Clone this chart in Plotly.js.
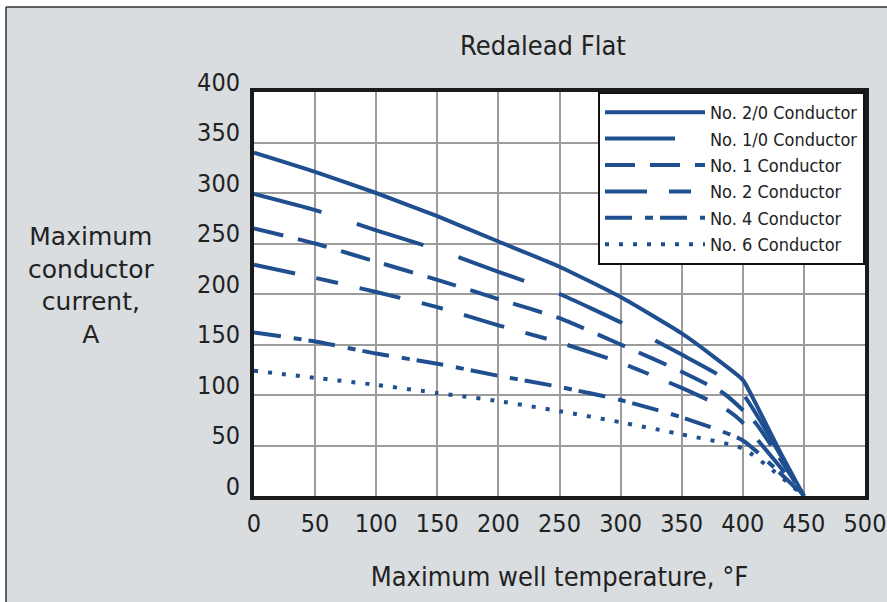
<!DOCTYPE html>
<html>
<head>
<meta charset="utf-8">
<script src="https://cdn.plot.ly/plotly-3.0.1.min.js"></script>
<style>html,body{margin:0;padding:0;background:#fff;}#chart{width:887px;height:602px;}</style>
</head>
<body>
<div id="chart"></div>
<script>
// ---- data ----
var seriesNames = ["No. 2/0 Conductor","No. 1/0 Conductor","No. 1 Conductor","No. 2 Conductor","No. 4 Conductor","No. 6 Conductor"];
var temp20 = [0,50,100,150,200,250,300,350,375,400,410,430,450];
var amp20  = [340,321,300,277,252,227,197,161,139,115,93,45,0];
var temp10 = [0,50,100,150,200,250,300,350,380,400,450];
var amp10  = [299,283,263,244,222,200,172,140,120,101,0];
var temp1  = [0,50,100,150,200,250,300,350,385,410,450];
var amp1   = [265,250,232,214,195,176,150,123,101,73,0];
var temp2  = [0,50,100,150,200,250,300,350,385,398,450];
var amp2   = [229,216,202,187,169,152,132,107,87,75,0];
var temp4  = [0,50,100,150,200,250,300,350,400,450];
var amp4   = [162,153,141,131,119,108,95,78,55,0];
var temp6  = [0,50,100,150,200,250,300,350,400,450];
var amp6   = [124,117,110,102,94,84,73,61,47,0];
var xTicks = [0,50,100,150,200,250,300,350,400,450,500];
var yTicks = [0,50,100,150,200,250,300,350,400];

var chartTitle = "Redalead Flat";
var xTitle = "Maximum well temperature, °F";
var yTitle = "Maximum<br>conductor<br>current,<br>A";

// ---- styling ----
var blue = "#1f4f8f";
var dashes = ["solid","70px,37px","30px,15px","42px,22px,22px,22px","27px,13px,8px,7px","4px,10px"];
var xs = [temp20,temp10,temp1,temp2,temp4,temp6];
var ys = [amp20,amp10,amp1,amp2,amp4,amp6];

var traces = seriesNames.map(function(n,i){
  return {x:xs[i], y:ys[i], name:n, type:"scatter", mode:"lines",
    line:{color:blue, width:4, dash:dashes[i], shape:"spline", smoothing:0.5}};
});

var W=887,H=602, L=254, R=22, T=92, B=106;
var pw=W-L-R, ph=H-T-B;
function px(x){return (x-L)/pw;}
function py(y){return (H-B-y)/ph;}

var narrow = "DejaVu Sans Condensed, Liberation Sans Narrow, sans-serif";
var wide = "DejaVu Sans, Liberation Sans, sans-serif";

var layout = {
  width:W, height:H,
  margin:{l:L, r:R, t:T, b:B, pad:0},
  paper_bgcolor:"#d9dde0",
  plot_bgcolor:"#ffffff",
  showlegend:true,
  title:{text:chartTitle, font:{family:narrow, size:27, color:"#222"},
    xref:"paper", x:px(543), xanchor:"center", yref:"container", y:1-46/H, yanchor:"middle"},
  xaxis:{range:[0,500], tickvals:xTicks, ticktext:xTicks.map(String),
    showgrid:true, gridcolor:"#9c9c9c", gridwidth:2,
    showline:true, linecolor:"#1a1a1a", linewidth:4, mirror:true,
    zeroline:false, ticks:"", ticklabelstandoff:2, ticklabeloverflow:"allow",
    tickfont:{family:narrow, size:25, color:"#222"},
    title:{text:xTitle, font:{family:narrow, size:27, color:"#222"}, standoff:31},
    fixedrange:true},
  yaxis:{range:[0,400], tickvals:yTicks, ticktext:yTicks.map(String),
    showgrid:true, gridcolor:"#9c9c9c", gridwidth:2,
    showline:true, linecolor:"#1a1a1a", linewidth:4, mirror:true,
    zeroline:false, ticks:"", ticklabelstandoff:5, ticklabelshift:-10,
    tickfont:{family:narrow, size:25, color:"#222"},
    fixedrange:true},
  legend:{x:1, xanchor:"right", y:1, yanchor:"top", xref:"paper", yref:"paper",
    bgcolor:"#ffffff", bordercolor:"#111", borderwidth:2,
    font:{family:narrow, size:18, color:"#222"}, itemwidth:100, tracegroupgap:0},
  annotations:[
    {text:yTitle, xref:"paper", yref:"paper", x:px(91), y:py(285), xanchor:"center", yanchor:"middle",
     showarrow:false, align:"center", font:{family:wide, size:25, color:"#222"}}
  ],
  shapes:[
    {type:"rect", xref:"paper", yref:"paper", x0:px(-5), x1:px(6), y0:py(-5), y1:py(610), fillcolor:"#ffffff", line:{width:0}, layer:"below"},
    {type:"rect", xref:"paper", yref:"paper", x0:px(-5), x1:px(895), y0:py(7), y1:py(-5), fillcolor:"#ffffff", line:{width:0}, layer:"below"},
    {type:"line", xref:"paper", yref:"paper", x0:px(6), x1:px(6), y0:py(7), y1:py(610), line:{color:"#333", width:1.5}, layer:"below"},
    {type:"line", xref:"paper", yref:"paper", x0:px(6), x1:px(895), y0:py(7), y1:py(7), line:{color:"#333", width:1.5}, layer:"below"}
  ]
};

Plotly.newPlot("chart", traces, layout, {displayModeBar:false, staticPlot:true});
</script>
</body>
</html>
